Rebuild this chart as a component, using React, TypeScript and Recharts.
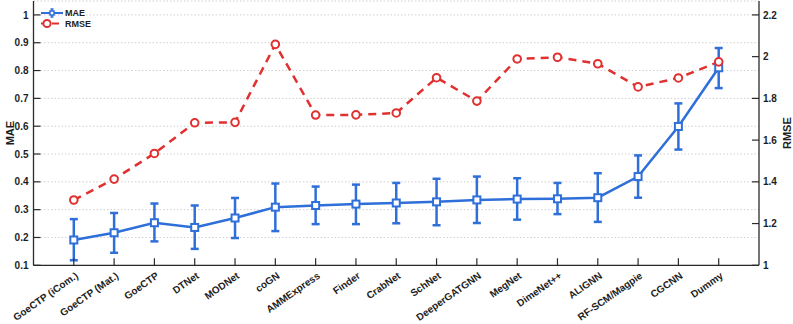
import React from 'react';
import { ComposedChart, Line, XAxis, YAxis, CartesianGrid, ErrorBar } from 'recharts';

const categories = [
  'GoeCTP (iCom.)', 'GoeCTP (Mat.)', 'GoeCTP', 'DTNet', 'MODNet', 'coGN', 'AMMExpress', 'Finder',
  'CrabNet', 'SchNet', 'DeeperGATGNN', 'MegNet', 'DimeNet++', 'ALIGNN', 'RF-SCM/Magpie', 'CGCNN', 'Dummy',
];
const maeValues = [0.191, 0.217, 0.253, 0.236, 0.270, 0.309, 0.315, 0.320, 0.324, 0.328, 0.335, 0.338, 0.339, 0.343, 0.419, 0.599, 0.810];
const maeLower = [0.118, 0.145, 0.186, 0.159, 0.198, 0.223, 0.248, 0.248, 0.251, 0.244, 0.252, 0.264, 0.284, 0.256, 0.343, 0.516, 0.737];
const maeUpper = [0.266, 0.288, 0.322, 0.315, 0.342, 0.394, 0.383, 0.390, 0.396, 0.411, 0.419, 0.413, 0.396, 0.431, 0.495, 0.682, 0.881];
const rmseValues = [1.313, 1.413, 1.536, 1.683, 1.685, 2.059, 1.720, 1.721, 1.730, 1.899, 1.787, 1.989, 1.997, 1.966, 1.855, 1.898, 1.975];

const maeTicks = [0.1, 0.2, 0.3, 0.4, 0.5, 0.6, 0.7, 0.8, 0.9, 1];
const rmseTicks = [1, 1.2, 1.4, 1.6, 1.8, 2, 2.2];
const catTicks = categories.map((_, i) => i + 1);

const data = categories.map((name, i) => ({
  idx: i + 1,
  name,
  mae: maeValues[i],
  maeErr: [maeValues[i] - maeLower[i], maeUpper[i] - maeValues[i]],
  rmse: rmseValues[i],
}));

const BLUE = '#2F6FD9';
const RED = '#E0302F';
const AXIS = '#2a2a2a';
const FONT = '"Liberation Sans", Arial, Helvetica, sans-serif';
const TXT = '#1e1e1e';

const LeftTick = (props: any) => {
  const { x, y, payload } = props;
  return (
    <g>
      <line x1={x} x2={x + 7} y1={y} y2={y} stroke={AXIS} strokeWidth={1.2} />
      <text x={x - 5} y={y} dy={3.6} textAnchor="end" fontFamily={FONT} fontWeight="bold" fontSize={10} fill={TXT}>
        {String(payload.value)}
      </text>
    </g>
  );
};

const RightTick = (props: any) => {
  const { x, y, payload } = props;
  return (
    <g>
      <line x1={x - 7} x2={x} y1={y} y2={y} stroke={AXIS} strokeWidth={1.2} />
      <text x={x + 4} y={y} dy={3.6} textAnchor="start" fontFamily={FONT} fontWeight="bold" fontSize={10} fill={TXT}>
        {String(payload.value)}
      </text>
    </g>
  );
};

const BottomTick = (props: any) => {
  const { x, y, payload } = props;
  const label = categories[payload.value - 1] ?? '';
  return (
    <g>
      <line x1={x} x2={x} y1={y} y2={y - 7} stroke={AXIS} strokeWidth={1.2} />
      <g transform={`translate(${x + 3},${y + 9}) rotate(-35)`}>
        <text x={0} y={0} dy={3.6} textAnchor="end" fontFamily={FONT} fontWeight="bold" fontSize={10} fill={TXT}>
          {label}
        </text>
      </g>
    </g>
  );
};

const TopTick = (props: any) => {
  const { x, y } = props;
  return <line x1={x} x2={x} y1={y} y2={y + 7} stroke={AXIS} strokeWidth={1.2} />;
};

const SquareDot = (props: any) => {
  const { cx, cy, index } = props;
  if (cx == null || cy == null) return <g key={`sq-${index}`} />;
  return <rect key={`sq-${index}`} x={cx - 3.5} y={cy - 3.5} width={7} height={7} fill="#fff" stroke={BLUE} strokeWidth={2} />;
};

const CircleDot = (props: any) => {
  const { cx, cy, index } = props;
  if (cx == null || cy == null) return <g key={`ci-${index}`} />;
  return <circle key={`ci-${index}`} cx={cx} cy={cy} r={3.8} fill="#fff" stroke={RED} strokeWidth={2} />;
};

const LeftTitle = (props: any) => {
  const { viewBox } = props;
  const cx = viewBox.x + 10;
  const cy = viewBox.y + viewBox.height / 2;
  return (
    <text x={cx} y={cy} transform={`rotate(-90,${cx},${cy})`} textAnchor="middle" dy={4} fontFamily={FONT} fontWeight="bold" fontSize={11} fill={TXT}>
      MAE
    </text>
  );
};

const RightTitle = (props: any) => {
  const { viewBox } = props;
  const cx = viewBox.x + 28;
  const cy = viewBox.y + viewBox.height / 2;
  return (
    <text x={cx} y={cy} transform={`rotate(-90,${cx},${cy})`} textAnchor="middle" dy={4} fontFamily={FONT} fontWeight="bold" fontSize={11} fill={TXT}>
      RMSE
    </text>
  );
};

const LegendBox = () => (
  <svg width={90} height={30} style={{ position: 'absolute', left: 38, top: 5 }}>
    <g>
      <line x1={3} x2={25} y1={8} y2={8} stroke={BLUE} strokeWidth={2} />
      <line x1={14} x2={14} y1={4} y2={12} stroke={BLUE} strokeWidth={1.5} />
      <line x1={12.5} x2={15.5} y1={4} y2={4} stroke={BLUE} strokeWidth={1.5} />
      <line x1={12.5} x2={15.5} y1={12} y2={12} stroke={BLUE} strokeWidth={1.5} />
      <rect x={12} y={6} width={4} height={4} fill="#fff" stroke={BLUE} strokeWidth={1.5} />
      <text x={27} y={8} dy={3.4} fontFamily={FONT} fontWeight="bold" fontSize={9} fill={TXT}>MAE</text>
    </g>
    <g>
      <line x1={3} x2={25} y1={18.5} y2={18.5} stroke={RED} strokeWidth={2.2} strokeDasharray="7 4" />
      <circle cx={9} cy={18.5} r={3.6} fill="#fff" stroke={RED} strokeWidth={2} />
      <text x={27} y={18.5} dy={3.4} fontFamily={FONT} fontWeight="bold" fontSize={9} fill={TXT}>RMSE</text>
    </g>
  </svg>
);

export default function App() {
  return (
    <div style={{ position: 'absolute', left: 0, top: 0, width: 793, height: 324, background: '#fff' }}>
      <ComposedChart width={793} height={324} data={data} margin={{ top: 1, right: 0, bottom: 0, left: 0 }}>
        <CartesianGrid vertical={false} yAxisId="left" stroke="#cfcfcf" strokeDasharray="1.5 2" strokeWidth={1} />
        <XAxis
          xAxisId="bottom"
          dataKey="idx"
          type="number"
          domain={[0, 18]}
          ticks={catTicks}
          allowDataOverflow
          height={58.7}
          tickSize={0}
          tickMargin={0}
          tickLine={false}
          tick={<BottomTick />}
          axisLine={{ stroke: AXIS, strokeWidth: 1.3 }}
          interval={0}
        />
        <XAxis
          xAxisId="top"
          orientation="top"
          dataKey="idx"
          type="number"
          domain={[0, 18]}
          ticks={catTicks}
          allowDataOverflow
          height={0}
          tickSize={0}
          tickMargin={0}
          tickLine={false}
          tick={<TopTick />}
          axisLine={{ stroke: AXIS, strokeWidth: 1.3 }}
          interval={0}
        />
        <YAxis
          yAxisId="left"
          type="number"
          domain={[0.1, 1.05]}
          ticks={maeTicks}
          allowDataOverflow
          width={33.5}
          tickSize={0}
          tickMargin={0}
          tickLine={false}
          tick={<LeftTick />}
          axisLine={{ stroke: AXIS, strokeWidth: 1.3 }}
          interval={0}
          label={<LeftTitle />}
        />
        <YAxis
          yAxisId="right"
          orientation="right"
          type="number"
          domain={[1, 2.26667]}
          ticks={rmseTicks}
          allowDataOverflow
          width={34}
          tickSize={0}
          tickMargin={0}
          tickLine={false}
          tick={<RightTick />}
          axisLine={{ stroke: AXIS, strokeWidth: 1.3 }}
          interval={0}
          label={<RightTitle />}
        />
        <Line
          xAxisId="bottom"
          yAxisId="left"
          dataKey="mae"
          stroke={BLUE}
          strokeWidth={2.5}
          dot={<SquareDot />}
          activeDot={false}
          isAnimationActive={false}
        >
          <ErrorBar dataKey="maeErr" direction="y" width={4} stroke={BLUE} strokeWidth={2.5} isAnimationActive={false} />
        </Line>
        <Line
          xAxisId="bottom"
          yAxisId="right"
          dataKey="rmse"
          stroke={RED}
          strokeWidth={2.5}
          strokeDasharray="8 6"
          dot={<CircleDot />}
          activeDot={false}
          isAnimationActive={false}
        />
      </ComposedChart>
      <LegendBox />
    </div>
  );
}
